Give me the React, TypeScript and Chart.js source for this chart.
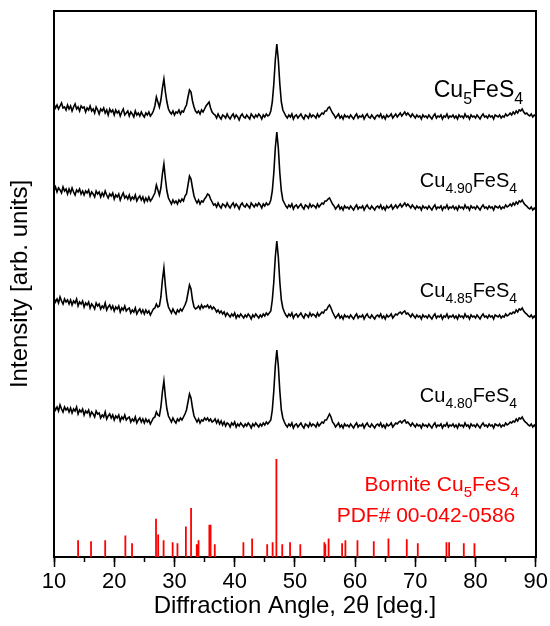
import React, { useEffect, useRef } from "react";
import { Chart, registerables } from "chart.js";

Chart.register(...registerables);

const FONT = '"Liberation Sans", Arial, Helvetica, sans-serif';

// 2θ sampling grid (degrees)
const ANGLES = [
  10, 10.25, 10.5, 10.75, 11, 11.25, 11.5, 11.75, 12, 12.25,
  12.5, 12.75, 13, 13.25, 13.5, 13.75, 14, 14.25, 14.5, 14.75,
  15, 15.25, 15.5, 15.75, 16, 16.25, 16.5, 16.75, 17, 17.25,
  17.5, 17.75, 18, 18.25, 18.5, 18.75, 19, 19.25, 19.5, 19.75,
  20, 20.25, 20.5, 20.75, 21, 21.25, 21.5, 21.75, 22, 22.25,
  22.5, 22.75, 23, 23.25, 23.5, 23.75, 24, 24.25, 24.5, 24.75,
  25, 25.25, 25.5, 25.75, 26, 26.25, 26.5, 26.75, 27, 27.25,
  27.5, 27.75, 28, 28.25, 28.5, 28.75, 29, 29.25, 29.5, 29.75,
  30, 30.25, 30.5, 30.75, 31, 31.25, 31.5, 31.75, 32, 32.25,
  32.5, 32.75, 33, 33.25, 33.5, 33.75, 34, 34.25, 34.5, 34.75,
  35, 35.25, 35.5, 35.75, 36, 36.25, 36.5, 36.75, 37, 37.25,
  37.5, 37.75, 38, 38.25, 38.5, 38.75, 39, 39.25, 39.5, 39.75,
  40, 40.25, 40.5, 40.75, 41, 41.25, 41.5, 41.75, 42, 42.25,
  42.5, 42.75, 43, 43.25, 43.5, 43.75, 44, 44.25, 44.5, 44.75,
  45, 45.25, 45.5, 45.75, 46, 46.25, 46.5, 46.75, 47, 47.25,
  47.5, 47.75, 48, 48.25, 48.5, 48.75, 49, 49.25, 49.5, 49.75,
  50, 50.25, 50.5, 50.75, 51, 51.25, 51.5, 51.75, 52, 52.25,
  52.5, 52.75, 53, 53.25, 53.5, 53.75, 54, 54.25, 54.5, 54.75,
  55, 55.25, 55.5, 55.75, 56, 56.25, 56.5, 56.75, 57, 57.25,
  57.5, 57.75, 58, 58.25, 58.5, 58.75, 59, 59.25, 59.5, 59.75,
  60, 60.25, 60.5, 60.75, 61, 61.25, 61.5, 61.75, 62, 62.25,
  62.5, 62.75, 63, 63.25, 63.5, 63.75, 64, 64.25, 64.5, 64.75,
  65, 65.25, 65.5, 65.75, 66, 66.25, 66.5, 66.75, 67, 67.25,
  67.5, 67.75, 68, 68.25, 68.5, 68.75, 69, 69.25, 69.5, 69.75,
  70, 70.25, 70.5, 70.75, 71, 71.25, 71.5, 71.75, 72, 72.25,
  72.5, 72.75, 73, 73.25, 73.5, 73.75, 74, 74.25, 74.5, 74.75,
  75, 75.25, 75.5, 75.75, 76, 76.25, 76.5, 76.75, 77, 77.25,
  77.5, 77.75, 78, 78.25, 78.5, 78.75, 79, 79.25, 79.5, 79.75,
  80, 80.25, 80.5, 80.75, 81, 81.25, 81.5, 81.75, 82, 82.25,
  82.5, 82.75, 83, 83.25, 83.5, 83.75, 84, 84.25, 84.5, 84.75,
  85, 85.25, 85.5, 85.75, 86, 86.25, 86.5, 86.75, 87, 87.25,
  87.5, 87.75, 88, 88.25, 88.5, 88.75, 89, 89.25, 89.5, 89.75,
  90,
];

// Intensity traces (arb. units, stacked with vertical offsets as in the figure)
const CU5_00 = [
  453, 449, 452, 448, 451, 454, 449, 450, 447, 452,
  448, 451, 446, 450, 453, 448, 450, 446, 451, 449,
  450, 445, 449, 447, 451, 446, 448, 444, 450, 447,
  443, 448, 446, 449, 444, 447, 442, 448, 445, 447,
  442, 447, 444, 446, 441, 445, 448, 442, 444, 446,
  441, 445, 443, 440, 446, 442, 444, 441, 445, 442,
  440, 444, 442, 445, 441, 443, 446,
  451, 460, 455, 450, 457, 469, 478, 465, 455, 448,
  445, 443, 446, 442, 445, 444, 447, 443, 446, 445, 449,
  452, 460, 467, 465, 456, 450, 446,
  444, 446, 443, 447, 445, 448,
  451, 453, 455, 449, 445, 443,
  442, 439, 443, 440, 438, 442, 441, 439, 443, 440,
  438, 441, 443, 439, 442, 440, 437, 441, 443, 440,
  439, 442, 440, 438, 443, 441, 439, 442, 440, 443,
  441, 438, 442, 440, 443, 441, 442, 446,
  455, 473, 497, 513, 497, 473, 455, 447,
  444, 441, 439, 442, 440, 443, 438, 441, 442, 439,
  441, 443, 440, 438, 442, 441, 439, 443, 440, 442,
  441, 439, 443, 440, 442, 444, 443, 446,
  446, 449, 450, 447, 444,
  442, 439, 441, 443, 439, 441, 438, 442, 440, 441,
  439, 442, 440, 438, 441, 443, 439, 441, 440, 442,
  438, 441, 443, 440, 439, 442, 440, 438, 441, 442,
  440, 443, 439, 441, 438, 442, 440, 441, 443, 439,
  441, 443, 440, 442, 444, 441, 443, 445, 442, 444,
  442, 440, 443, 441, 439, 442, 440, 441, 438, 442,
  440, 441, 439, 442, 440, 438, 441, 443, 439, 441,
  440, 442, 438, 441, 440, 443, 439, 441, 440, 442,
  439, 441, 438, 442, 440, 441, 439, 443, 440, 441,
  438, 442, 440, 441, 439, 442, 440, 438, 441, 443,
  440, 441, 439, 442, 440, 441, 438, 442, 441, 440,
  442, 439, 441, 440, 443, 441, 442, 444, 442, 445,
  443, 446, 444, 447, 446, 448, 445, 443, 444, 442,
  441, 443, 440, 442, 441,
];

const CU4_90 = [
  366, 370, 365, 369, 367, 364, 370, 366, 368, 363,
  368, 364, 369, 365, 362, 367, 365, 368, 363, 366,
  362, 366, 364, 367, 361, 365, 363, 360, 366, 363,
  365, 360, 364, 361, 366, 362, 359, 363, 361, 364,
  358, 362, 360, 363, 357, 361, 364, 359, 361, 358,
  362, 357, 360, 358, 362, 356, 359, 361, 357, 360,
  355, 359, 356, 360, 356, 358, 361,
  364, 372, 367, 362, 369, 383, 393, 378, 366, 359,
  356, 353, 357, 354, 356, 353, 357, 355, 358, 356, 361,
  363, 372, 381, 378, 369, 361, 357,
  354, 357, 353, 356, 355, 358,
  360, 363, 362, 358, 355, 352,
  353, 350, 354, 351, 349, 353, 352, 350, 354, 351,
  349, 352, 354, 350, 353, 351, 348, 352, 354, 351,
  350, 353, 351, 349, 354, 352, 350, 353, 351, 354,
  352, 349, 353, 351, 354, 352, 353, 357,
  366, 384, 409, 425, 409, 384, 366, 357,
  354, 351, 349, 352, 350, 353, 348, 351, 352, 349,
  351, 353, 350, 348, 352, 351, 349, 353, 350, 352,
  351, 349, 353, 350, 352, 354, 353, 356,
  356, 358, 359, 356, 353,
  351, 348, 350, 352, 348, 350, 347, 351, 349, 350,
  348, 351, 349, 347, 350, 352, 348, 350, 349, 351,
  347, 350, 352, 349, 348, 351, 349, 347, 350, 351,
  349, 352, 348, 350, 347, 351, 349, 350, 352, 348,
  350, 352, 349, 351, 353, 350, 352, 354, 351, 353,
  351, 349, 352, 350, 348, 351, 349, 350, 347, 351,
  349, 350, 348, 351, 349, 347, 350, 352, 348, 350,
  349, 351, 347, 350, 349, 352, 348, 350, 349, 351,
  348, 350, 347, 351, 349, 350, 348, 352, 349, 350,
  347, 351, 349, 350, 348, 351, 349, 347, 350, 352,
  349, 350, 348, 351, 349, 350, 347, 351, 350, 349,
  351, 348, 350, 349, 352, 350, 351, 353, 351, 354,
  352, 355, 353, 356, 355, 357, 354, 352, 351, 349,
  348, 350, 347, 349, 347,
];

const CU4_85 = [
  259, 255, 258, 254, 260, 256, 253, 258, 255, 257,
  253, 257, 252, 256, 254, 258, 251, 255, 253, 256,
  250, 254, 252, 255, 249, 253, 251, 248, 254, 251,
  253, 248, 251, 249, 254, 247, 250, 252, 248, 251,
  246, 250, 248, 251, 245, 249, 247, 251, 246, 248,
  249, 244, 247, 245, 249, 243, 246, 248, 244, 247,
  243, 247, 244, 246, 242, 245, 248,
  249, 253, 250, 251, 260, 277, 289, 271, 257, 250,
  247, 244, 248, 245, 243, 247, 245, 248, 246, 249, 252,
  256, 264, 272, 268, 257, 250, 248,
  249, 251, 248, 252, 249, 251,
  250, 252, 249, 251, 248, 250,
  248, 245, 247, 244, 246, 243, 245, 241, 244, 242,
  240, 243, 241, 244, 239, 242, 240, 243, 241, 239,
  242, 240, 243, 241, 238, 242, 240, 243, 241, 239,
  242, 240, 243, 241, 244, 242, 244, 246,
  257, 275, 300, 316, 300, 275, 257, 249,
  245, 242, 240, 243, 241, 244, 239, 242, 243, 240,
  242, 244, 241, 239, 243, 242, 240, 244, 241, 243,
  242, 240, 244, 241, 243, 245, 244, 247,
  247, 250, 252, 249, 245,
  242, 239, 241, 243, 239, 241, 238, 242, 240, 241,
  239, 242, 240, 238, 241, 243, 239, 241, 240, 242,
  238, 241, 243, 240, 239, 242, 240, 238, 241, 242,
  240, 243, 239, 241, 238, 242, 240, 241, 243, 239,
  241, 243, 242, 244, 245, 243, 245, 246, 243, 244,
  242, 240, 243, 241, 239, 242, 240, 241, 238, 242,
  240, 241, 239, 242, 240, 238, 241, 243, 239, 241,
  240, 242, 238, 241, 240, 243, 239, 241, 240, 242,
  239, 241, 238, 242, 240, 241, 239, 243, 240, 241,
  238, 242, 240, 241, 239, 242, 240, 238, 241, 243,
  240, 241, 239, 242, 240, 241, 238, 242, 241, 240,
  242, 239, 241, 240, 243, 241, 242, 244, 243, 245,
  244, 247, 245, 248, 247, 249, 246, 244, 243, 241,
  240, 242, 239, 241, 239,
];

const CU4_80 = [
  151, 147, 150, 146, 152, 148, 145, 150, 147, 149,
  145, 149, 144, 148, 146, 150, 143, 147, 145, 148,
  142, 146, 144, 147, 141, 145, 143, 140, 146, 143,
  144, 139, 142, 140, 145, 138, 141, 143, 139, 142,
  137, 141, 139, 142, 136, 140, 138, 142, 137, 139,
  140, 135, 138, 136, 140, 134, 137, 139, 135, 138,
  134, 138, 135, 137, 133, 136, 139,
  140, 145, 142, 141, 150, 165, 176, 160, 148, 141,
  138, 135, 139, 136, 134, 138, 136, 139, 137, 140, 143,
  147, 155, 163, 159, 149, 141, 138,
  135, 138, 134, 137, 136, 139,
  137, 139, 136, 138, 135, 136,
  138, 134, 137, 133, 136, 132, 135, 131, 134, 133,
  130, 134, 132, 135, 130, 133, 131, 134, 132, 130,
  133, 131, 134, 132, 129, 133, 131, 134, 132, 130,
  133, 131, 134, 132, 135, 133, 135, 137,
  147, 166, 191, 207, 191, 166, 147, 139,
  135, 132, 130, 133, 131, 134, 129, 132, 133, 130,
  132, 134, 131, 129, 133, 132, 130, 134, 131, 133,
  132, 130, 134, 131, 133, 135, 134, 137,
  137, 140, 143, 140, 135,
  133, 130, 132, 134, 130, 132, 129, 133, 131, 132,
  130, 133, 131, 129, 132, 134, 130, 132, 131, 133,
  129, 132, 134, 131, 130, 133, 131, 129, 132, 133,
  131, 134, 130, 132, 129, 133, 131, 132, 134, 130,
  132, 134, 133, 135, 136, 134, 136, 137, 134, 135,
  133, 131, 134, 132, 130, 133, 131, 132, 129, 133,
  131, 132, 130, 133, 131, 129, 132, 134, 130, 132,
  131, 133, 129, 132, 131, 134, 130, 132, 131, 133,
  130, 132, 129, 133, 131, 132, 130, 134, 131, 132,
  129, 133, 131, 132, 130, 133, 131, 129, 132, 134,
  131, 132, 130, 133, 131, 132, 129, 133, 132, 131,
  133, 130, 132, 131, 134, 132, 133, 135, 134, 136,
  135, 138, 136, 139, 138, 140, 137, 135, 134, 132,
  131, 133, 130, 132, 130,
];

// Bornite reference pattern PDF# 00-042-0586 (relative intensity %)
const STICK_ANGLES = [
  14.0, 16.15, 18.5, 21.85, 22.96, 26.94, 27.3, 28.2, 29.7, 30.5, 31.9, 32.76, 33.7, 34.0, 35.8, 36.0,
  36.7, 41.45, 42.9, 45.4, 46.3, 46.93, 47.9, 49.2, 50.9, 54.9, 55.05, 55.6, 57.84, 58.39, 60.39, 63.1,
  65.54, 68.58, 70.41, 75.17, 75.61, 78.05, 79.82,
];
const STICK_INTENSITY = [
  17, 16, 17, 22, 14, 39, 23, 17, 15, 14, 31, 50, 13, 17, 33, 33,
  13, 15, 19, 13, 15, 100, 13, 15, 13, 15, 13, 19, 14, 17, 17, 16,
  19, 18, 14, 15, 15, 14, 14,
];
const STICK_SCALE = 0.98; // % -> plotted arb. units

const X_MIN = 10;
const X_MAX = 90;
const Y_MIN = 0;
const Y_MAX = 546;

type Part = [string, boolean];
type Annotation = { parts: Part[]; x: number; y: number; size: number; color: string };

const ANNOTATIONS: Annotation[] = [
  { parts: [["Cu", false], ["5", true], ["FeS", false], ["4", true]], x: 87.9, y: 460, size: 23, color: "#000000" },
  { parts: [["Cu", false], ["4.90", true], ["FeS", false], ["4", true]], x: 86.9, y: 370, size: 20, color: "#000000" },
  { parts: [["Cu", false], ["4.85", true], ["FeS", false], ["4", true]], x: 86.9, y: 260, size: 20, color: "#000000" },
  { parts: [["Cu", false], ["4.80", true], ["FeS", false], ["4", true]], x: 86.9, y: 155, size: 20, color: "#000000" },
  { parts: [["Bornite Cu", false], ["5", true], ["FeS", false], ["4", true]], x: 87.2, y: 66, size: 21, color: "#ff0000" },
  { parts: [["PDF# 00-042-0586", false]], x: 86.6, y: 35, size: 21, color: "#ff0000" },
];

const annotationPlugin = {
  id: "formulaLabels",
  afterDatasetsDraw(chart: any) {
    const { ctx, scales } = chart;
    ctx.save();
    for (const a of ANNOTATIONS) {
      const right = scales.x.getPixelForValue(a.x);
      const base = scales.y.getPixelForValue(a.y);
      const mainFont = `${a.size}px ${FONT}`;
      const subFont = `${Math.round(a.size * 0.7)}px ${FONT}`;
      let w = 0;
      for (const [t, sub] of a.parts) {
        ctx.font = sub ? subFont : mainFont;
        w += ctx.measureText(t).width;
      }
      let cx = right - w;
      ctx.fillStyle = a.color;
      ctx.textAlign = "left";
      ctx.textBaseline = "alphabetic";
      for (const [t, sub] of a.parts) {
        ctx.font = sub ? subFont : mainFont;
        ctx.fillText(t, cx, base + (sub ? a.size * 0.3 : 0));
        cx += ctx.measureText(t).width;
      }
    }
    ctx.restore();
  },
};

function trace(values: number[]) {
  return ANGLES.map((x, i) => ({ x, y: values[i] }));
}

export default function App() {
  const canvasRef = useRef<HTMLCanvasElement | null>(null);

  useEffect(() => {
    document.body.style.margin = "0";
    const canvas = canvasRef.current;
    if (!canvas) return;

    const sticks: { x: number; y: number | null }[] = [];
    STICK_ANGLES.forEach((a, i) => {
      sticks.push({ x: a, y: 0 });
      sticks.push({ x: a, y: STICK_INTENSITY[i] * STICK_SCALE });
      sticks.push({ x: a, y: null });
    });

    const traceStyle = {
      borderColor: "#000000",
      borderWidth: 1.6,
      pointRadius: 0,
      tension: 0,
      fill: false,
    };

    const chart = new Chart(canvas, {
      type: "line",
      data: {
        datasets: [
          { ...traceStyle, label: "Cu5FeS4", data: trace(CU5_00) },
          { ...traceStyle, label: "Cu4.90FeS4", data: trace(CU4_90) },
          { ...traceStyle, label: "Cu4.85FeS4", data: trace(CU4_85) },
          { ...traceStyle, label: "Cu4.80FeS4", data: trace(CU4_80) },
          {
            label: "Bornite",
            data: sticks as any,
            borderColor: "#ff0000",
            borderWidth: 1.8,
            pointRadius: 0,
            spanGaps: false,
            tension: 0,
          },
        ],
      },
      options: {
        animation: false,
        responsive: false,
        maintainAspectRatio: false,
        layout: { padding: { top: 11, right: 14, left: 0, bottom: 0 } },
        plugins: { legend: { display: false }, tooltip: { enabled: false } },
        scales: {
          x: {
            type: "linear",
            position: "bottom",
            weight: 1,
            min: X_MIN,
            max: X_MAX,
            ticks: {
              stepSize: 10,
              color: "#000000",
              font: { size: 22, family: FONT },
              padding: 2,
              maxRotation: 0,
              autoSkip: false,
            },
            grid: {
              display: true,
              drawOnChartArea: false,
              drawTicks: true,
              tickLength: 10,
              tickColor: "#000000",
              tickWidth: 1.5,
            },
            border: { display: true, color: "#000000", width: 2 },
            title: {
              display: true,
              text: "Diffraction Angle, 2θ [deg.]",
              color: "#000000",
              font: { size: 24, family: FONT },
              padding: { top: 0, bottom: 5 },
            },
            afterFit: (s: any) => {
              s.height = 69;
            },
          },
          xMinor: {
            type: "linear",
            position: "bottom",
            weight: 0,
            min: X_MIN,
            max: X_MAX,
            ticks: { display: false, stepSize: 5 },
            grid: {
              display: true,
              drawOnChartArea: false,
              drawTicks: true,
              tickLength: 5,
              tickColor: "#000000",
              tickWidth: 1.5,
            },
            border: { display: false },
            afterFit: (s: any) => {
              s.height = 0;
            },
          },
          xTop: {
            type: "linear",
            position: "top",
            min: X_MIN,
            max: X_MAX,
            ticks: { display: false },
            grid: { display: false },
            border: { display: true, color: "#000000", width: 2 },
            afterFit: (s: any) => {
              s.height = 0;
            },
          },
          y: {
            type: "linear",
            position: "left",
            min: Y_MIN,
            max: Y_MAX,
            ticks: { display: false },
            grid: { display: false },
            border: { display: true, color: "#000000", width: 2 },
            title: {
              display: true,
              text: "Intensity [arb. units]",
              color: "#000000",
              font: { size: 24, family: FONT },
              padding: { top: 6, bottom: 0 },
            },
            afterFit: (s: any) => {
              s.width = 54;
            },
          },
          yRight: {
            type: "linear",
            position: "right",
            min: Y_MIN,
            max: Y_MAX,
            ticks: { display: false },
            grid: { display: false },
            border: { display: true, color: "#000000", width: 2 },
            afterFit: (s: any) => {
              s.width = 0;
            },
          },
        },
      } as any,
      plugins: [annotationPlugin],
    });

    return () => {
      chart.destroy();
    };
  }, []);

  return (
    <div style={{ width: 550, height: 626, background: "#ffffff" }}>
      <canvas ref={canvasRef} width={550} height={626} style={{ display: "block", width: 550, height: 626 }} />
    </div>
  );
}
